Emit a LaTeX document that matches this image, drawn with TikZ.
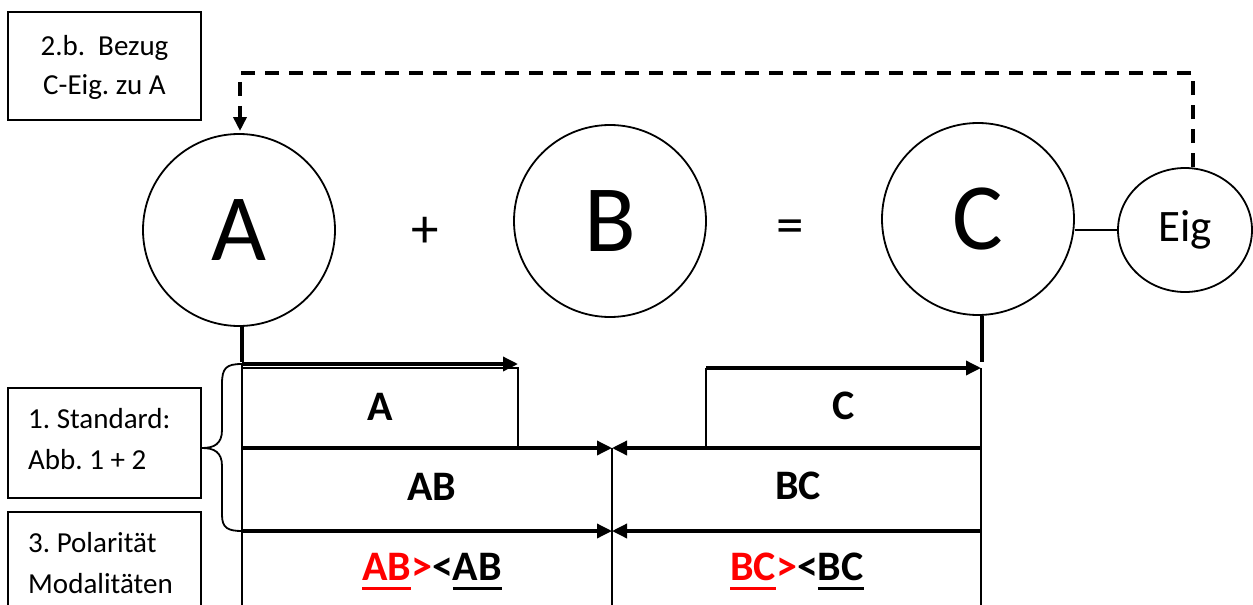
\documentclass[tikz,border=0pt]{standalone}
\usepackage{fontspec}
\setmainfont{Carlito}
\usetikzlibrary{arrows.meta,shapes.geometric}
\newcommand{\myul}[1]{\setbox0\hbox{#1}\rlap{\rule[-10pt]{\wd0}{3pt}}\box0}
\frenchspacing
\begin{document}
\begin{tikzpicture}[x=1pt,y=-1pt,
  thinln/.style={line width=1.8pt},
  thickln/.style={line width=3.4pt},
  tip/.style={-{Triangle[length=15pt,width=14pt]}},
  circ/.style={circle,draw,line width=1.8pt,minimum size=192pt,inner sep=0pt,font=\fontsize{95}{95}\selectfont},
  boxtxt/.style={inner sep=0pt,font=\fontsize{29}{29}\selectfont},
  lbl/.style={inner sep=0pt,anchor=base,font=\bfseries\fontsize{42}{42}\selectfont},
  frame/.style={draw,thinln,inner sep=0pt,minimum width=193pt}]
\useasboundingbox (0,0) rectangle (1253,605);
\clip (0,0) rectangle (1253,605);
% boxes
\node[frame,minimum height=108pt] (b2) at (104.5,66) {};
\node[boxtxt,anchor=base] (b2a) at (104.5,55) {2.b.\ \ Bezug};
\node[boxtxt,anchor=base] (b2b) at (104.5,94) {C-Eig. zu A};
\node[frame,minimum height=110pt] (b1) at (104.5,443) {};
\node[boxtxt,anchor=base west] (b1a) at (28,428) {1. Standard:};
\node[boxtxt,anchor=base west] (b1b) at (28,469) {Abb. 1 + 2};
\node[frame,minimum height=138pt] (b3) at (104.5,581) {};
\node[boxtxt,anchor=base west] (b3a) at (28,552) {3. Polarität};
\node[boxtxt,anchor=base west] (b3b) at (28,593) {Modalitäten};
% circles
\node[circ] (A) at (239,230) {A};
\node[circ] (B) at (610,221) {B};
\node[circ] (C) at (978,219) {C};
\node[ellipse,draw,line width=1.8pt,minimum width=134pt,minimum height=124pt,inner sep=0pt,font=\fontsize{45}{45}\selectfont] (E) at (1185,230) {Eig};
\node[inner sep=0pt,font=\fontsize{55}{55}\selectfont] (plus) at (425,232) {+};
\node[inner sep=0pt,font=\fontsize{55}{55}\selectfont] (eq) at (790,232) {=};
\draw[thinln] (C.east |- E.west) -- (E.west);
% dashed reference
\coordinate (d0) at ([xshift=8pt]E.north);
\coordinate (top) at (0,73);
\coordinate (atop) at (240,131);
\draw[line width=3.6pt,dash pattern=on 14pt off 10pt,-{Triangle[length=14pt,width=13pt]}] (d0) -- (d0 |- top) -| (atop);
% table coordinates
\coordinate (a0) at (242,362);
\coordinate (a1) at (242,364);
\coordinate (a2) at (518,364);
\coordinate (r0) at (242,368);
\coordinate (r1) at (518,448);
\coordinate (L1) at (242,448);
\coordinate (L2) at (242,531);
\coordinate (M1) at (612,448);
\coordinate (M2) at (612,531);
\coordinate (R1) at (981,448);
\coordinate (R2) at (981,531);
\coordinate (c0) at (982,362);
\coordinate (c1) at (706,368);
\coordinate (c2) at (981,368);
\coordinate (c3) at (706,448);
\coordinate (bot) at (0,605);
\coordinate (bt) at (202,448);
% stubs
\draw[thickln] (A.south -| a0) -- (a0);
\draw[thickln] (C.south -| c0) -- (c0);
% A arrow and box
\draw[thickln,tip] (a1) -- (a2);
\draw[thinln] (r0) -| (r1);
% C arrow and box
\draw[thickln,tip] (c1) -- (c2);
\draw[thinln] (c1) -- (c3);
% horizontal arrows
\draw[thickln,tip] (L1) -- (M1);
\draw[thickln,tip] (R1) -- (M1);
\draw[thickln,tip] (L2) -- (M2);
\draw[thickln,tip] (R2) -- (M2);
% verticals
\draw[thinln] (a1) -- (a1 |- bot);
\draw[thinln] (M1) -- (M1 |- bot);
\draw[thinln] (c2) -- (c2 |- bot);
% brace
\draw[thinln] (a1) .. controls (226,364) and (222,368) .. (222,384) -- (222,430)
  .. controls (222,444) and (214,448) .. (bt)
  .. controls (214,448) and (222,452) .. (222,466) -- (222,515)
  .. controls (222,528) and (228,531) .. (L2);
% labels
\node[lbl] (lA) at (380,420) {A};
\node[lbl] (lC) at (844,419) {C};
\node[lbl] (lAB) at (432,500) {AB};
\node[lbl] (lBC) at (798,499) {BC};
\node[lbl] (pAB) at (432,580) {{\color{red}\myul{AB}>}<\myul{AB}};
\node[lbl] (pBC) at (797,580) {{\color{red}\myul{BC}>}<\myul{BC}};
\end{tikzpicture}
\end{document}
